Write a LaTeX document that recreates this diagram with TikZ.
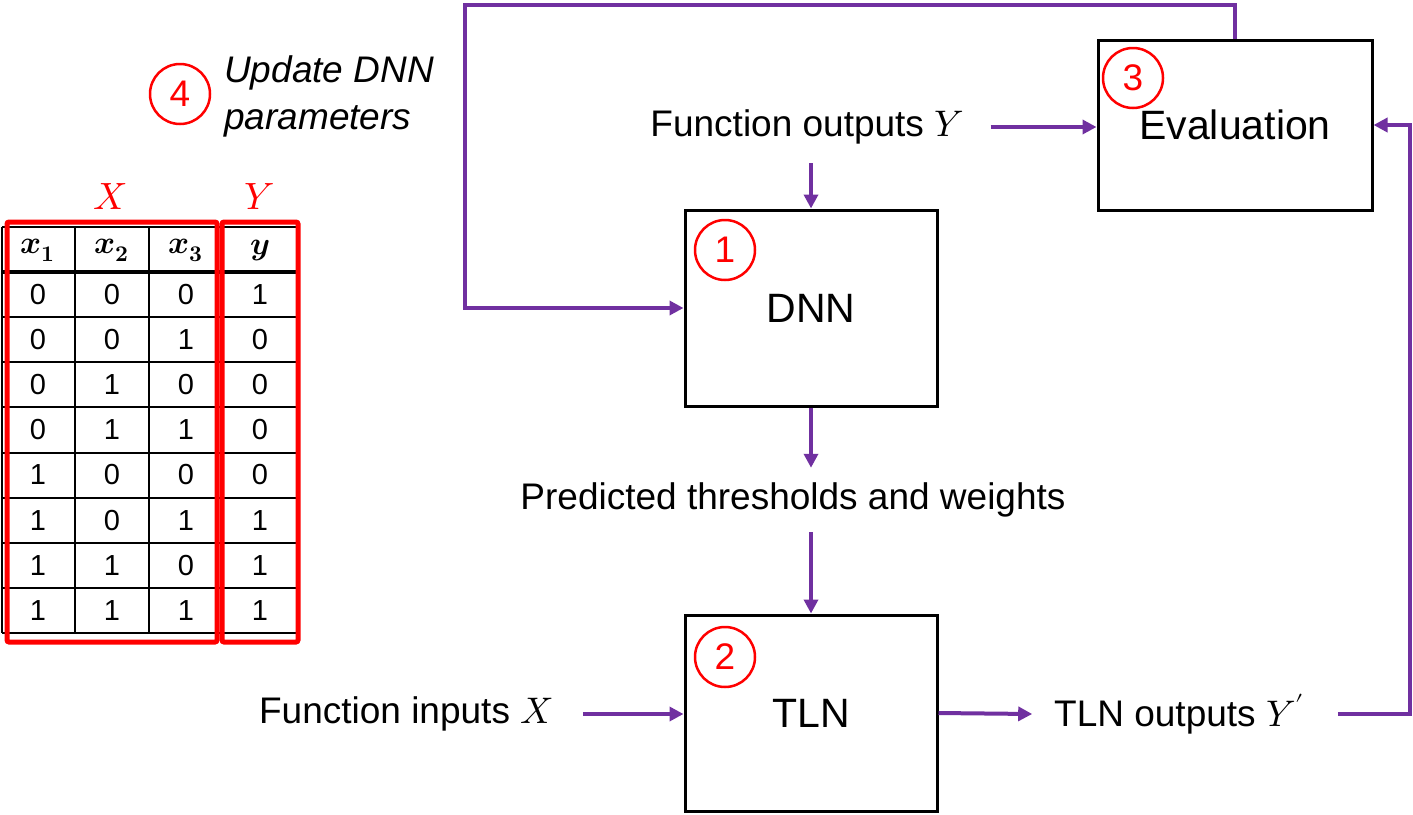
\documentclass[tikz,border=0pt]{standalone}
\usepackage{fontspec}
\usepackage{unicode-math}
\setmainfont{Liberation Sans}
\usetikzlibrary{arrows.meta,calc}
\definecolor{flowc}{HTML}{7030A0}
\definecolor{redc}{HTML}{FF0000}
\newcommand{\fsz}[1]{\fontsize{#1}{#1}\selectfont}
\begin{document}
\begin{tikzpicture}[x=1pt,y=-1pt,
  procbox/.style={draw=black, line width=3pt, inner sep=0pt, font=\fsz{41}},
  lbl/.style={font=\fsz{37}, inner sep=0pt},
  arr/.style={draw=flowc, line width=4pt, -{Triangle[length=14pt,width=14pt]}},
  numc/.style={draw=redc, circle, line width=2.5pt, minimum size=60pt, inner sep=0pt, text=redc, font=\fsz{37}},
  cell/.style={font=\fsz{29}, inner sep=0pt},
  hcell/.style={font=\fsz{32}, inner sep=0pt},
  grid/.style={draw=black, line width=2pt},
  redbox/.style={draw=redc, line width=5pt, rounded corners=2pt},
]
\useasboundingbox (0,0) rectangle (1413,814);

% boxes
\node[procbox, minimum width=252pt, minimum height=196pt] (dnn) at (811,308) {DNN};
\node[procbox, minimum width=252pt, minimum height=196pt] (tln) at (811,713) {TLN};
\node[procbox, minimum width=274pt, minimum height=170pt] (eval) at (1235,125) {Evaluation};

% circled numbers
\node[numc] (c1) at (725,250) {1};
\node[numc] (c2) at (725,657) {2};
\node[numc] (c3) at (1133,78) {3};
\node[numc] (c4) at (180,94) {4};

% labels
\node[lbl, outer xsep=27pt, outer ysep=19pt] (fout) at (807,127) {Function outputs $Y$};
\node[lbl, outer ysep=15pt] (pred) at (793,500) {Predicted thresholds and weights};
\node[lbl, outer xsep=30pt] (fin) at (406,714) {Function inputs $X$};
\node[lbl, outer xsep=22pt] (tout) at (1179,714) {TLN outputs $Y^{\prime}$};
\node[anchor=west, align=left, inner sep=0pt, font=\fsz{37}\itshape] (upd) at (224,96) {Update DNN\\[10pt]parameters};

% connectors
\coordinate (tl) at (465,5);
\coordinate (rr) at (1410,714);
\draw[arr] (eval.north) |- (tl) |- (dnn.west);
\draw[arr] (fout.east) -- (eval.west |- fout.east);
\draw[arr] (dnn.north |- fout.south) -- (dnn.north);
\draw[arr] (dnn.south) -- (dnn.south |- pred.north);
\draw[arr] (tln.north |- pred.south) -- (tln.north);
\draw[arr] (fin.east) -- (tln.west |- fin.east);
\draw[arr] (tln.east) -- (tout.west);
\draw[arr] ([xshift=12pt]tout.east) -- (rr) |- (eval.east);

% table grid
\foreach \yy in {227,317,362,407,453,498,543,588,633} {\draw[grid] (2,\yy) -- (297,\yy);}
\draw[draw=black, line width=4pt] (2,272) -- (297,272);
\foreach \xx in {2,75,149,223,297} {\draw[grid] (\xx,227) -- (\xx,633);}

% header
\node[hcell] (h1) at (38,250) {$\symbfit{x}_{\symbf{1}}$};
\node[hcell] (h2) at (112,250) {$\symbfit{x}_{\symbf{2}}$};
\node[hcell] (h3) at (186,250) {$\symbfit{x}_{\symbf{3}}$};
\node[hcell] (h4) at (260,250) {$\symbfit{y}$};

% data
\foreach \a/\b/\c/\d [count=\i] in {0/0/0/1,0/0/1/0,0/1/0/0,0/1/1/0,1/0/0/0,1/0/1/1,1/1/0/1,1/1/1/1} {
  \pgfmathsetmacro\yy{272+45.1*(\i-0.5)}
  \node[cell] (t\i a) at (38,\yy) {\a};
  \node[cell] (t\i b) at (112,\yy) {\b};
  \node[cell] (t\i c) at (186,\yy) {\c};
  \node[cell] (t\i d) at (260,\yy) {\d};
}

% red highlight boxes
\draw[redbox] (7,222) rectangle (217,642);
\draw[redbox] (222,222) rectangle (298,642);
\node[text=redc, font=\fsz{38}, inner sep=0pt] (lx) at (110,197) {$X$};
\node[text=redc, font=\fsz{38}, inner sep=0pt] (ly) at (260,197) {$Y$};
\end{tikzpicture}
\end{document}
